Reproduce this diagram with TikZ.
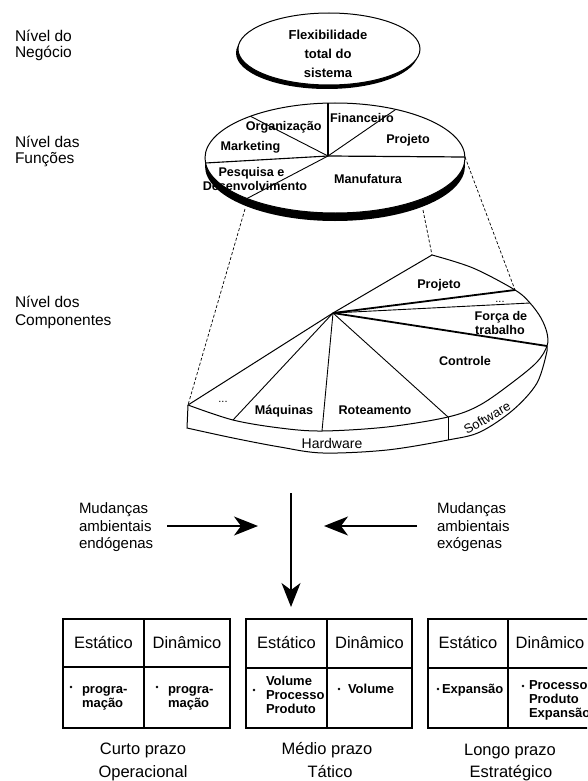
\documentclass[tikz,border=0pt]{standalone}
\usepackage{fontspec}
\setmainfont{Liberation Sans}
\usetikzlibrary{arrows.meta}
\begin{document}
\begin{tikzpicture}[x=1pt,y=-1pt,
  every node/.style={inner sep=0pt, outer sep=0pt},
  tier/.style={anchor=base west, font=\fontsize{15.5}{18}\selectfont},
  cause/.style={anchor=base west, font=\fontsize{15}{18}\selectfont},
  slice/.style={anchor=base, font=\bfseries\fontsize{12.6}{14}\selectfont},
  gap/.style={anchor=base, font=\fontsize{11}{12}\selectfont},
  band/.style={anchor=base, font=\fontsize{14}{16}\selectfont},
  colhead/.style={anchor=base, font=\fontsize{16.5}{19}\selectfont},
  entry/.style={anchor=base west, font=\bfseries\fontsize{13}{15}\selectfont},
  horizon/.style={anchor=base, font=\fontsize{16.5}{19}\selectfont},
  bul/.style={circle, fill=black, minimum size=2.8pt},
  rim/.style={line width=1pt},
  cut/.style={line width=0.9pt},
  heavycut/.style={line width=1.8pt},
  proj/.style={dash pattern=on 3pt off 2pt, line width=0.7pt},
  flow/.style={line width=1.3pt, -{Stealth[length=24pt,width=19pt,inset=7pt]}},
  grid/.style={line width=1.3pt},
]
\useasboundingbox (0,0) rectangle (587,781);
\clip (0,0) rectangle (587,781);

% ---------- level labels ----------
\node[tier] (n1a) at (15,42) {Nível do};
\node[tier] (n1b) at (15,58) {Negócio};
\node[tier] (n2a) at (15,147) {Nível das};
\node[tier] (n2b) at (15,163) {Funções};
\node[tier] (n3a) at (15,307) {Nível dos};
\node[tier] (n3b) at (15,325) {Componentes};

% ---------- business level disc ----------
\fill (327,53) ellipse [x radius=91, y radius=36];
\filldraw[fill=white, rim] (329,49) ellipse [x radius=91, y radius=36];
\node[slice, font=\bfseries\fontsize{13}{15}\selectfont] (b1) at (328,39.5) {Flexibilidade};
\node[slice, font=\bfseries\fontsize{13}{15}\selectfont] (b2) at (328,58.5) {total do};
\node[slice, font=\bfseries\fontsize{13}{15}\selectfont] (b3) at (328,78) {sistema};

% ---------- functions level disc ----------
\fill (335,166) ellipse [x radius=130, y radius=55];
\filldraw[fill=white, rim] (335,158) ellipse [x radius=130, y radius=55];
\coordinate (fc) at (328,156);
\coordinate (ftop) at (328,103.1);
\coordinate (forg) at (250.5,116.3);
\coordinate (ffin) at (395.8,109.4);
\coordinate (fright) at (465,157);
\coordinate (fleft) at (205.5,163);
\coordinate (fpes) at (247,198.5);
\draw[line width=1.2pt] (fc) -- (ftop);
\draw[line width=1.2pt] (fc) -- (fright);
\draw[cut] (fc) -- (forg);
\draw[cut] (fc) -- (ffin);
\draw[line width=1.1pt] (fc) -- (fleft);
\draw[cut] (fc) -- (fpes);
\node[slice] (f1) at (283.7,131) {Organização};
\node[slice] (f2) at (362,123) {Financeiro};
\node[slice] (f3) at (408,143) {Projeto};
\node[slice] (f4) at (250.5,150) {Marketing};
\node[slice] (f5) at (251.5,176) {Pesquisa e};
\node[slice] (f6) at (255,190) {Desenvolvimento};
\node[slice] (f7) at (368,183) {Manufatura};

% ---------- components level (manufacturing) ----------
\coordinate (ca) at (333,313);
\coordinate (p1) at (432,255);
\coordinate (p2) at (515,290);
\coordinate (p3) at (530,303);
\coordinate (p4) at (547,346);
\coordinate (p5) at (448,417);
\coordinate (p6) at (322,431);
\coordinate (p7) at (233,420);
\coordinate (p8) at (188,405);
\coordinate (q8) at (187,428);
\coordinate (q5) at (448,440);
\coordinate (q4) at (547,351);

% top face outline
\draw[rim, line join=round] (ca) -- plot[smooth, tension=0.55] coordinates
  {(p1) (473,268) (p2) (p3) (541,318) (547,333) (p4) (537,362) (513,382)
   (480,405) (p5) (387,427) (p6) (280,428) (p7) (p8)} -- cycle;
% rim band
\draw[rim] (p8) -- plot[smooth, tension=0.55] coordinates
  {(q8) (233,438) (280,447) (323,453) (387,450) (q5) (480,432) (513,410)
   (537,383) (q4)} -- (p4);
\draw[cut] (p5) -- (q5);

% sector borders
\draw[heavycut] (ca) -- (p2);
\draw[cut] (ca) -- (p3);
\draw[heavycut] (ca) -- (p4);
\draw[cut] (ca) -- (p5);
\draw[cut] (ca) -- (p6);
\draw[cut] (ca) -- (p7);

\node[slice] (c1) at (439,288) {Projeto};
\node[gap] (c2) at (500,302) {...};
\node[slice] (c3) at (501,320) {Força de};
\node[slice] (c4) at (500,334) {trabalho};
\node[slice] (c5) at (465,365) {Controle};
\node[slice] (c6) at (375,414) {Roteamento};
\node[slice] (c7) at (284,414) {Máquinas};
\node[gap] (c8) at (223,402) {...};
\node[band] (hw) at (332,448) {Hardware};
\node[band, font=\fontsize{13}{15}\selectfont, anchor=center, rotate=30] (sw) at (487,418) {Software};

% projection from the functions disc
\coordinate (d1) at (245,209);
\coordinate (d2) at (423,210);
\draw[proj] (d1) -- (p8);
\draw[proj] (d2) -- (p1);
\draw[proj] (fright) -- (p2);

% ---------- environmental changes ----------
\node[cause] (e1) at (79,513) {Mudanças};
\node[cause] (e2) at (79,531) {ambientais};
\node[cause] (e3) at (79,548) {endógenas};
\node[cause] (x1) at (437,513) {Mudanças};
\node[cause] (x2) at (437,531) {ambientais};
\node[cause] (x3) at (437,548) {exógenas};

\coordinate (ls) at (167,526);
\coordinate (le) at (258,526);
\coordinate (rs) at (417,526);
\coordinate (re) at (324,526);
\coordinate (vs) at (291,493);
\coordinate (ve) at (291,607);
\draw[flow] (ls) -- (le);
\draw[flow] (rs) -- (re);
\draw[flow] (vs) -- (ve);

% ---------- time horizons ----------
% short term
\draw[grid] (63,619) rectangle (230,728);
\draw[grid] (144,619) -- (144,728);
\draw[grid] (63,667) -- (230,667);
\node[colhead] (s1) at (103.5,648) {Estático};
\node[colhead] (s2) at (187,648) {Dinâmico};
\node[bul] (sb1) at (71,687) {};
\node[entry] (s3) at (82,693) {progra-};
\node[entry] (s4) at (82,707) {mação};
\node[bul] (sb2) at (157,687) {};
\node[entry] (s5) at (168,693) {progra-};
\node[entry] (s6) at (168,707) {mação};
\node[horizon] (s7) at (143,754) {Curto prazo};
\node[horizon] (s8) at (143,777) {Operacional};

% medium term
\draw[grid] (246,619) rectangle (412,728);
\draw[grid] (327,619) -- (327,728);
\draw[grid] (246,668) -- (412,668);
\node[colhead] (m1) at (286.5,648) {Estático};
\node[colhead] (m2) at (369.5,648) {Dinâmico};
\node[bul] (mb1) at (254,690) {};
\node[entry] (m3) at (266,685) {Volume};
\node[entry] (m4) at (266,699) {Processo};
\node[entry] (m5) at (266,713) {Produto};
\node[bul] (mb2) at (339,689) {};
\node[entry] (m6) at (348,693) {Volume};
\node[horizon] (m7) at (327,754) {Médio prazo};
\node[horizon] (m8) at (330,777) {Tático};

% long term
\draw[grid] (428,619) rectangle (594,728);
\draw[grid] (508,619) -- (508,728);
\draw[grid] (428,668) -- (594,668);
\node[colhead] (l1) at (468,648) {Estático};
\node[colhead] (l2) at (550,648) {Dinâmico};
\node[bul] (lb1) at (438,689) {};
\node[entry] (l3) at (442,693) {Expansão};
\node[bul] (lb2) at (523,686) {};
\node[entry] (l4) at (529,689) {Processo};
\node[entry] (l5) at (529,703) {Produto};
\node[entry] (l6) at (529,717) {Expansão};
\node[horizon] (l7) at (510,755) {Longo prazo};
\node[horizon] (l8) at (511,777) {Estratégico};
\end{tikzpicture}
\end{document}
